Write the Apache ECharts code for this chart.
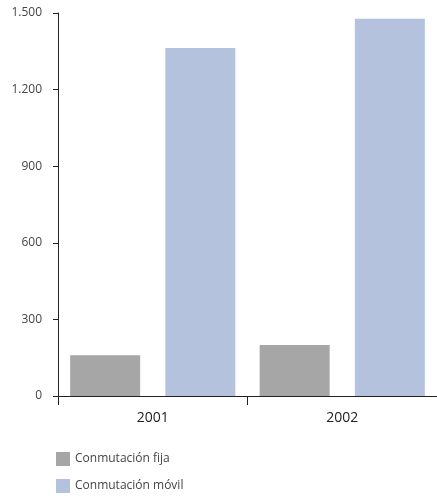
<!DOCTYPE html>
<html><head><meta charset="utf-8">
<script src="https://cdn.jsdelivr.net/npm/echarts@6/dist/echarts.min.js"></script>
<style>html,body{margin:0;padding:0;background:#fff}#c{width:437px;height:498px}</style>
</head><body><div id="c"></div>
<script>
const categories = ['2001', '2002'];
const fija = [160, 200];
const movil = [1363, 1477];
const yTicks = [0, 300, 600, 900, 1200, 1500];

const chart = echarts.init(document.getElementById('c'));
const font = 'Open Sans, Noto Sans, sans-serif';
chart.setOption({
  animation: false,
  textStyle: { fontFamily: font },
  grid: { left: 58, right: -3, top: 13, bottom: 102 },
  legend: {
    orient: 'vertical', left: 56, top: 452, padding: 0,
    itemWidth: 14, itemHeight: 14, itemGap: 13, icon: 'rect',
    textStyle: { fontSize: 12, color: '#444', fontFamily: font },
    data: ['Conmutación fija', 'Conmutación móvil']
  },
  xAxis: {
    type: 'category', data: categories,
    axisLine: { lineStyle: { color: '#222', width: 1 } },
    axisTick: { show: true, length: 9, lineStyle: { color: '#222' } },
    axisLabel: { fontSize: 14, color: '#222', margin: 15, fontFamily: font }
  },
  yAxis: {
    type: 'value', min: yTicks[0], max: yTicks[yTicks.length - 1], interval: 300,
    splitLine: { show: false },
    axisLine: { show: true, lineStyle: { color: '#222', width: 1 } },
    axisTick: { show: true, length: 5, lineStyle: { color: '#222' } },
    axisLabel: { fontSize: 12, color: '#444', margin: 16, fontFamily: font,
      formatter: v => String(v).replace(/\B(?=(\d{3})+(?!\d))/g, '.') }
  },
  series: [
    { name: 'Conmutación fija', type: 'bar', data: fija, barWidth: 70, barGap: '36%',
      itemStyle: { color: '#a6a6a6' } },
    { name: 'Conmutación móvil', type: 'bar', data: movil, barWidth: 70, barGap: '36%',
      itemStyle: { color: '#b4c2de' } }
  ]
});
</script></body></html>
